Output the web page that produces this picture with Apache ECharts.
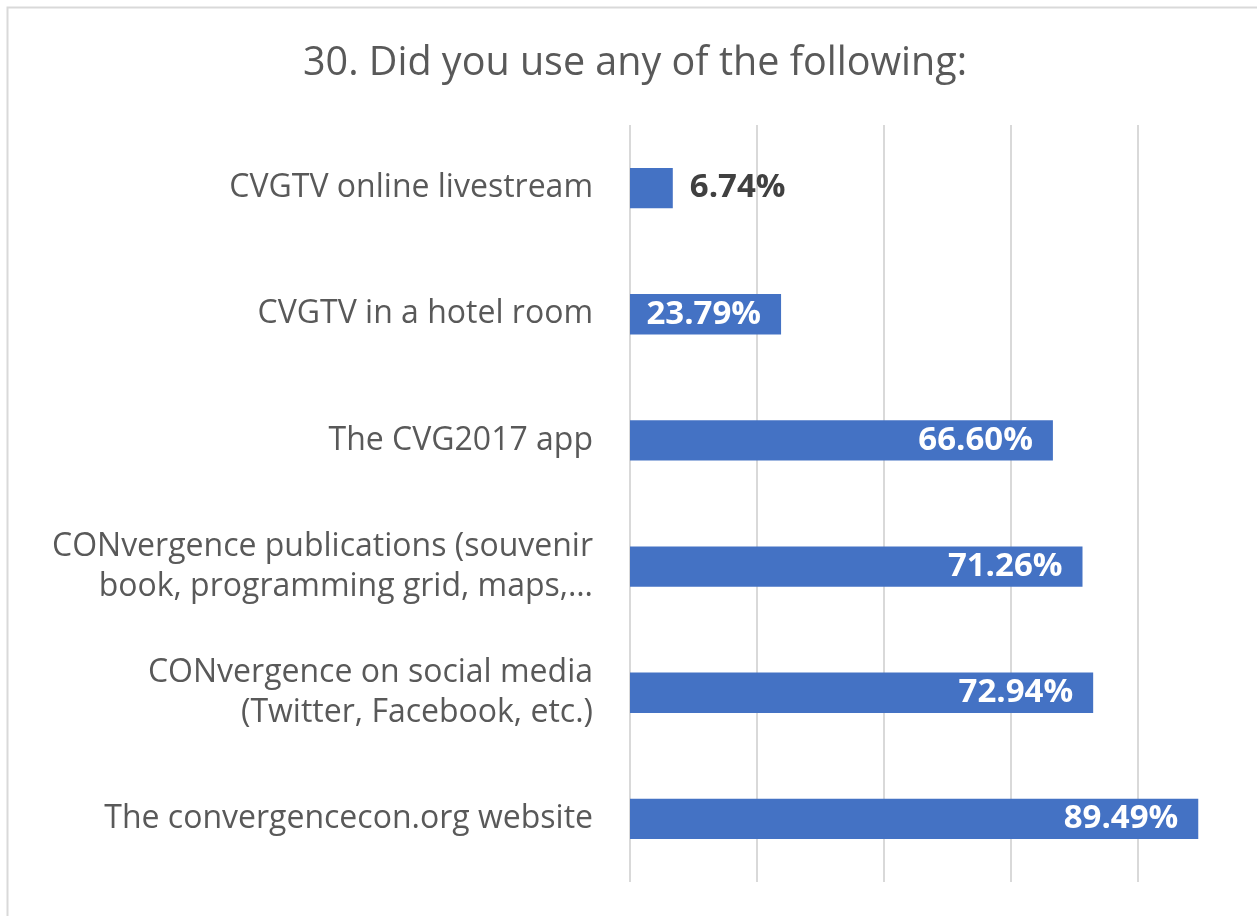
<!DOCTYPE html>
<html>
<head>
<meta charset="utf-8">
<title>30. Did you use any of the following:</title>
<script src="https://cdn.jsdelivr.net/npm/echarts@6/dist/echarts.min.js"></script>
<style>
    html, body { margin: 0; padding: 0; background: #fff; overflow: hidden; }
    #chart { width: 1275px; height: 916px; }
</style>
</head>
<body>
<div id="chart"></div>
<script>
// ---- 数据 ----
var titleText = '30. Did you use any of the following:';
var categories = [
    'CVGTV online livestream',
    'CVGTV in a hotel room',
    'The CVG2017 app',
    'CONvergence publications (souvenir\nbook, programming grid, maps,…',
    'CONvergence on social media\n(Twitter, Facebook, etc.)',
    'The convergencecon.org website'
];
var percents = [6.74, 23.79, 66.60, 71.26, 72.94, 89.49];

var FONT = '"Open Sans", "Noto Sans", sans-serif';

var chart = echarts.init(document.getElementById('chart'));

// 第一项数值较小，标签放在柱外
var seriesData = percents.map(function (v, i) {
    if (i === 0) {
        return {
            value: v,
            label: { position: 'right', distance: 17, color: '#404040' }
        };
    }
    return v;
});

chart.setOption({
    animation: false,
    title: {
        text: titleText,
        left: 630,
        top: 39,
        textAlign: 'center',
        textStyle: { color: '#595959', fontSize: 39.5, fontWeight: 'normal', fontFamily: FONT }
    },
    graphic: [{
        type: 'rect',
        left: 5, top: 5,
        shape: { width: 1300, height: 1000 },
        style: { fill: 'none', stroke: '#d9d9d9', lineWidth: 2 },
        silent: true
    }],
    grid: { left: 630, top: 125, width: 635, height: 757 },
    xAxis: {
        type: 'value',
        min: 0, max: 100, interval: 20,
        axisLabel: { show: false },
        axisLine: { show: false },
        axisTick: { show: false },
        splitLine: { lineStyle: { color: '#d9d9d9', width: 2 } }
    },
    yAxis: {
        type: 'category',
        inverse: true,
        data: categories,
        axisLine: { show: false },
        axisTick: { show: false },
        axisLabel: {
            color: '#595959', fontSize: 32, fontFamily: FONT,
            margin: 37, lineHeight: 40, align: 'right'
        }
    },
    series: [{
        type: 'bar',
        data: seriesData,
        barCategoryGap: '68%',
        itemStyle: { color: '#4472c4' },
        label: {
            show: true,
            position: 'insideRight',
            distance: 20,
            color: '#ffffff',
            fontSize: 33,
            fontWeight: 'bold',
            fontFamily: FONT,
            formatter: function (p) { return p.value.toFixed(2) + '%'; }
        }
    }]
});
</script>
</body>
</html>
